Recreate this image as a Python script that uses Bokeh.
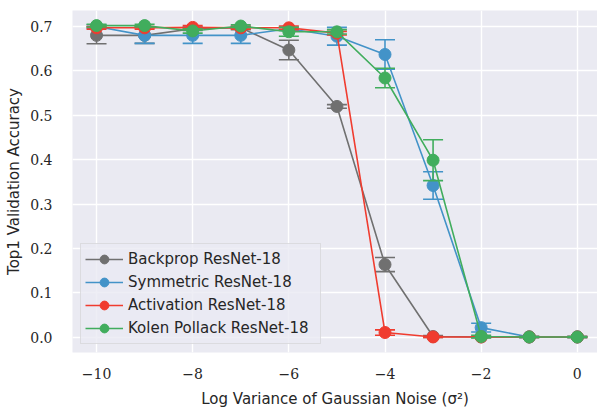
from bokeh.plotting import figure
from bokeh.models import ColumnDataSource, Legend, LegendItem, FixedTicker, Range1d
from bokeh.embed import file_html
from bokeh.resources import INLINE

log_var = [-10, -9, -8, -7, -6, -5, -4, -3, -2, -1, 0]

names = ["Backprop ResNet-18", "Symmetric ResNet-18", "Activation ResNet-18", "Kolen Pollack ResNet-18"]
colors = ["#707070", "#4393c8", "#f03c2f", "#41ad5d"]

backprop = [0.680, 0.680, 0.695, 0.697, 0.647, 0.520, 0.164, 0.002, 0.001, 0.001, 0.001]
backprop_err = [0.019, 0.018, 0.004, 0.004, 0.022, 0.004, 0.016, 0.002, 0.001, 0.001, 0.001]

symmetric = [0.700, 0.680, 0.680, 0.680, 0.695, 0.678, 0.637, 0.342, 0.022, 0.001, 0.001]
symmetric_err = [0.004, 0.018, 0.018, 0.018, 0.004, 0.020, 0.033, 0.031, 0.010, 0.001, 0.001]

activation = [0.697, 0.697, 0.698, 0.697, 0.697, 0.685, 0.011, 0.001, 0.001, 0.001, 0.001]
activation_err = [0.003, 0.003, 0.004, 0.003, 0.004, 0.004, 0.006, 0.001, 0.001, 0.001, 0.001]

kolen = [0.702, 0.702, 0.690, 0.701, 0.688, 0.688, 0.584, 0.399, 0.002, 0.001, 0.001]
kolen_err = [0.003, 0.003, 0.005, 0.003, 0.010, 0.005, 0.022, 0.046, 0.003, 0.001, 0.001]

series = [(backprop, backprop_err), (symmetric, symmetric_err), (activation, activation_err), (kolen, kolen_err)]

x_ticks = [-10, -8, -6, -4, -2, 0]
y_ticks = [0.0, 0.1, 0.2, 0.3, 0.4, 0.5, 0.6, 0.7]

p = figure(width=597, height=409, output_backend="svg", toolbar_location=None,
           x_range=Range1d(-10.5, 0.42), y_range=Range1d(-0.034, 0.736),
           frame_width=525, frame_height=342,
           min_border_left=72, min_border_right=0, min_border_top=10, min_border_bottom=57)
p.background_fill_color = "#eaeaf2"
p.border_fill_color = "white"
p.outline_line_color = None

for ax in (p.xaxis[0], p.yaxis[0]):
    ax.axis_line_color = None
    ax.major_tick_line_color = None
    ax.minor_tick_line_color = None
    ax.major_label_text_font = "DejaVu Serif"
    ax.major_label_text_font_size = "14px"
    ax.major_label_text_color = "#262626"
    ax.axis_label_text_font = "DejaVu Sans"
    ax.axis_label_text_font_size = "15px"
    ax.axis_label_text_font_style = "normal"
    ax.axis_label_text_color = "#262626"

p.xaxis.ticker = FixedTicker(ticks=x_ticks)
p.yaxis.ticker = FixedTicker(ticks=y_ticks)
p.xaxis.major_label_overrides = {t: ("\u2212" + str(abs(t)) if t < 0 else str(t)) for t in x_ticks}
p.yaxis.major_label_overrides = {t: "%.1f" % t for t in y_ticks}
p.xaxis.major_label_standoff = 9
p.yaxis.major_label_standoff = 14
p.xaxis.axis_label = "Log Variance of Gaussian Noise (\u03c3\u00b2)"
p.yaxis.axis_label = "Top1 Validation Accuracy"
p.xaxis.axis_label_standoff = 8
p.yaxis.axis_label_standoff = 4

p.grid.grid_line_color = "white"
p.grid.grid_line_width = 1.4

items = []
for name, color, (vals, errs) in zip(names, colors, series):
    lo = [v - e for v, e in zip(vals, errs)]
    hi = [v + e for v, e in zip(vals, errs)]
    src = ColumnDataSource(dict(x=log_var, y=vals, lo=lo, hi=hi))
    r_line = p.line("x", "y", source=src, line_color=color, line_width=1.6)
    r_seg = p.segment("x", "lo", "x", "hi", source=src, line_color=color, line_width=1.6)
    r_cap1 = p.scatter("x", "lo", source=src, marker="dash", size=20, line_color=color, line_width=1.6)
    r_cap2 = p.scatter("x", "hi", source=src, marker="dash", size=20, line_color=color, line_width=1.6)
    r_pt = p.scatter("x", "y", source=src, marker="circle", size=12, fill_color=color, line_color=color)
    items.append(LegendItem(label=name, renderers=[r_line, r_pt]))

legend = Legend(items=items, location="bottom_left")
legend.margin = 8
legend.padding = 4
legend.spacing = 1
legend.glyph_width = 38
legend.glyph_height = 22
legend.label_width = 188
legend.label_text_font = "DejaVu Sans"
legend.label_text_font_size = "15px"
legend.label_text_color = "#262626"
legend.background_fill_color = "#eaeaf2"
legend.background_fill_alpha = 0.8
legend.border_line_color = "#cccccc"
legend.border_line_width = 1
p.add_layout(legend)

open("out.html", "w").write(file_html(p, INLINE))
